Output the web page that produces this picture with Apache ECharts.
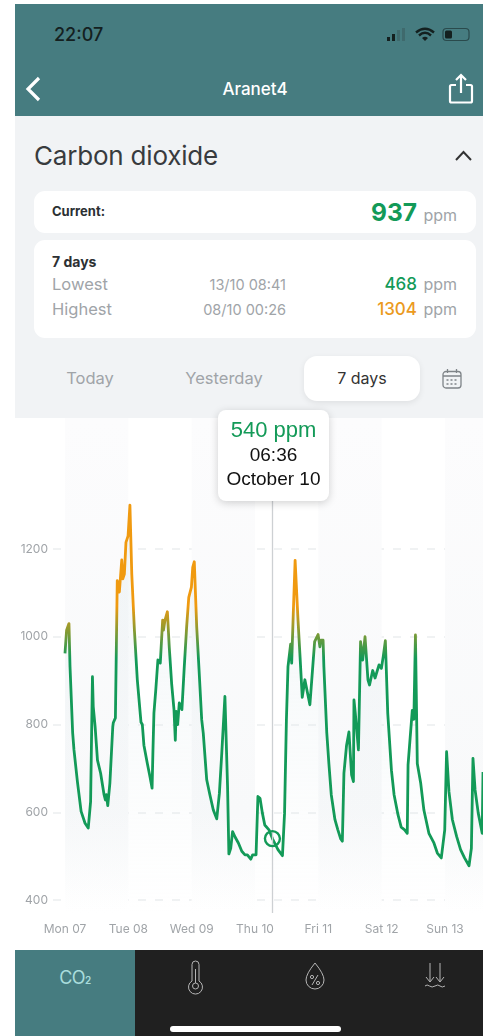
<!DOCTYPE html>
<html>
<head>
<meta charset="utf-8">
<title>Aranet4</title>
<script src="https://cdn.jsdelivr.net/npm/echarts@6/dist/echarts.min.js"></script>
<style>
    html, body { margin: 0; padding: 0; width: 483px; height: 1036px; background: #fff; overflow: hidden; font-family: Inter, "Noto Sans", sans-serif; }
    .abs { position: absolute; white-space: nowrap; line-height: 1; }
    .panel { position: absolute; }
    .card { position: absolute; left: 34px; width: 442px; background: #fff; border-radius: 11px; }
    .grey { color: #a0a4a8; }
    .green { color: #139a58; }
    .orange { color: #eb9a1e; }
    svg { position: absolute; overflow: visible; fill: none; }
    #chart { position: absolute; left: 0; top: 400px; width: 483px; height: 550px; }
</style>
</head>
<body>
<div class="panel" style="left:15px;top:4px;width:468px;height:112px;background:#467c80"></div>
<div class="panel" style="left:15px;top:116px;width:468px;height:302px;background:#f1f3f5"></div>

<div class="abs" style="left:54px;top:26px;font-size:18px;font-weight:500;color:#14201f">22:07</div>
<svg style="left:386px;top:26px" width="90" height="18">
    <rect x="1" y="11" width="3" height="4" fill="#14201f"/><rect x="6" y="8" width="3" height="7" fill="#14201f"/>
    <rect x="11" y="4" width="3" height="11" fill="#3f6a6d"/><rect x="16" y="2" width="3" height="13" fill="#3f6a6d"/>
    <path d="M30 6.5 Q39 -1 48 6.5" stroke="#14201f" stroke-width="2.4"/><path d="M33 9.5 Q39 4 45 9.5" stroke="#14201f" stroke-width="2.4"/>
    <path d="M36 12 L39 15 L42 12 Q39 9.5 36 12Z" fill="#14201f"/>
    <rect x="57" y="2.5" width="26" height="12" rx="3.5" stroke="#2a4a4c" stroke-width="1.2"/><rect x="59" y="4.5" width="7" height="8" rx="1.5" fill="#14201f"/>
</svg>
<svg style="left:24px;top:74px" width="20" height="30"><path d="M15 4 L4 15 L15 26" stroke="#fff" stroke-width="3.2"/></svg>
<div class="abs" style="left:155px;width:200px;top:81px;text-align:center;font-size:17px;font-weight:500;color:#fff">Aranet4</div>
<svg style="left:447px;top:73px" width="28" height="32" stroke="#fff" stroke-width="2.2">
    <path d="M14 2 V20 M9 7 L14 2 L19 7"/><path d="M9 12 H4.5 Q3 12 3 13.5 V28 Q3 29.5 4.5 29.5 H23.5 Q25 29.5 25 28 V13.5 Q25 12 23.5 12 H19"/>
</svg>

<div class="abs" style="left:34px;top:143px;font-size:26px;letter-spacing:-0.2px;color:#383b3e">Carbon dioxide</div>
<svg style="left:454px;top:149px" width="20" height="14"><path d="M2 11 L9.500 3 L17 11" stroke="#333" stroke-width="2"/></svg>

<div class="card" style="top:191px;height:42px"></div>
<div class="abs" style="left:52px;top:205px;font-size:13px;font-weight:700;color:#2c3033">Current:</div>
<div class="abs green" style="right:66px;top:200px;font-size:24.500px;font-weight:700">937</div>
<div class="abs grey" style="right:26px;top:207px;font-size:16px">ppm</div>

<div class="card" style="top:240px;height:98px"></div>
<div class="abs" style="left:52px;top:255px;font-size:14px;font-weight:700;color:#2c3033">7 days</div>
<div class="abs grey" style="left:52px;top:276px;font-size:16.500px">Lowest</div>
<div class="abs grey" style="left:52px;top:301px;font-size:16.500px">Highest</div>
<div class="abs grey" style="right:197px;top:278px;font-size:14.500px">13/10 08:41</div>
<div class="abs grey" style="right:197px;top:303px;font-size:14.500px">08/10 00:26</div>
<div class="abs green" style="right:66px;top:276px;font-size:17px;font-weight:500">468</div>
<div class="abs orange" style="right:66px;top:301px;font-size:17px;font-weight:500">1304</div>
<div class="abs grey" style="right:26px;top:276px;font-size:16px">ppm</div>
<div class="abs grey" style="right:26px;top:301px;font-size:16px">ppm</div>

<div class="panel" style="left:304px;top:356px;width:116px;height:45px;background:#fff;border-radius:13px;box-shadow:0 2px 6px rgba(0,0,0,.08)"></div>
<div class="abs grey" style="left:40px;width:100px;top:370px;text-align:center;font-size:16.500px">Today</div>
<div class="abs grey" style="left:164px;width:120px;top:370px;text-align:center;font-size:16.500px">Yesterday</div>
<div class="abs" style="left:304px;width:116px;top:370px;text-align:center;font-size:16px;color:#333">7 days</div>
<svg style="left:442px;top:369px" width="20" height="20" stroke="#7f8488" stroke-width="1.3">
    <rect x="1" y="2.500" width="18" height="16.500" rx="3"/><path d="M1 7 H19 M5.500 0 V4 M14.500 0 V4"/>
    <path d="M4.500 11 H15.500 M4.500 15 H15.500" stroke-dasharray="2 2" stroke-width="1.6"/>
</svg>

<div id="chart"></div>

<div class="panel" style="left:15px;top:950px;width:120px;height:86px;background:#467c80"></div>
<div class="panel" style="left:135px;top:950px;width:348px;height:86px;background:#202020"></div>
<div class="abs" style="left:15px;width:120px;top:969px;text-align:center;font-size:18px;color:#a9dcdc;letter-spacing:-0.5px">CO<span style="font-size:10px;font-weight:600">2</span></div>
<svg style="left:186px;top:960px" width="20" height="32" stroke="#b5b5b5" stroke-width="1">
    <path d="M6 21 V4.500 Q6 1 9.500 1 Q13 1 13 4.500 V21 A7 7 0 1 1 6 21Z"/><circle cx="9.500" cy="26" r="3"/><path d="M9.500 9 V23"/>
</svg>
<svg style="left:305px;top:961px" width="20" height="30" stroke="#b5b5b5" stroke-width="1">
    <path d="M10 2 Q19 13 19 19 A9 9 0 0 1 1 19 Q1 13 10 2Z"/><path d="M13 14 L7 24"/><circle cx="7" cy="16" r="1.600"/><circle cx="13" cy="22" r="1.600"/>
</svg>
<svg style="left:424px;top:962px" width="22" height="28" stroke="#b5b5b5" stroke-width="1">
    <path d="M6 1 V19 M2 15 L6 20 L10 15 M16 1 V19 M12 15 L16 20 L20 15"/><path d="M1 24 Q3 22 5.500 24 T11 24 T16 24 T21 24"/>
</svg>
<div class="panel" style="left:170px;top:1026px;width:171px;height:6px;background:#fff;border-radius:3px"></div>

<script>
// Hours since Mon 07 00:00 and CO2 readings in ppm
const sampleHours = [
    0, 0.6, 1.5, 1.9, 2.9, 3.4, 4.7, 6.1, 7.6, 8.8, 9.7, 10.4, 10.7, 11.4, 12.3, 13.5, 14.8, 15.3, 15.7, 16.2, 17, 18.1, 18.3, 19.1, 19.8,
    20.6, 21.5, 21.9, 22.5, 23.1, 23.9, 24.6, 25.3, 26.3, 27.4, 28.8, 29.3, 29.9, 31.2, 32.2, 33, 33.3, 33.7, 34.4, 35.2, 36.1, 37, 37.3, 37.9,
    38.8, 39.5, 40.4, 41.3, 41.8, 42.1, 42.7, 43.3, 44.3, 45.2, 46.1, 46.9, 47.9, 48.4, 49, 49.9, 50.8, 51.8, 52.4, 53.7, 54.9, 56.2, 57.5, 58.5,
    59.4, 60.6, 61.6, 62.1, 62.8, 63.5, 64.5, 65.7, 67, 68.2, 69.1, 70.4, 71.1, 72.4, 73.1, 73.9, 74.8, 75.7, 77.3, 78.6, 80.7, 82.4, 83.2, 83.9,
    84.5, 85.5, 85.9, 86.5, 87.2, 88.3, 89, 89.9, 90.5, 90.9, 91.4, 92.8, 93.7, 94.6, 95.9, 96.6, 97, 97.8, 98.1, 99.2, 100, 100.9, 102.3, 103.4,
    104.5, 105.1, 105.7, 106.7, 107.6, 108.6, 109.3, 109.5, 110, 111.2, 112, 112.8, 113.7, 114.8, 115.4, 116.6, 117.5, 119, 119.9, 120.6, 121.4,
    122.3, 123.7, 124.7, 126.2, 127.4, 128.7, 129.7, 130, 130.7, 131.6, 132.2, 132.8, 133.5, 134.8, 136, 137.9, 139.8, 141.1, 142.6, 143.9, 144.6,
    145.5, 146.8, 148.4, 149.9, 151.4, 153.1, 154, 154.6, 155.4, 156.6, 158.1, 158.4
];
const co2Values = [
    962, 1015, 1030, 932, 781, 742, 670, 602, 575, 564, 624, 909, 841, 796, 719, 689, 640, 628, 640, 615, 666, 795, 804, 815, 1128,
    1102, 1175, 1132, 1143, 1215, 1230, 1300, 1143, 1015, 902, 805, 800, 753, 711, 681, 655, 734, 826, 879, 947, 940, 1038, 1015, 1038,
    1057, 977, 894, 834, 764, 830, 800, 849, 834, 932, 1023, 1090, 1113, 1158, 1171, 1023, 924, 811, 780, 674, 640, 605, 585, 643,
    734, 864, 658, 505, 518, 556, 543, 530, 511, 503, 503, 493, 503, 503, 636, 632, 598, 571, 560, 540, 515, 501, 598, 810,
    932, 983, 940, 1052, 1174, 1038, 962, 862, 858, 902, 902, 845, 917, 989, 1005, 977, 992, 992, 932, 781, 711, 640, 583, 560,
    539, 534, 689, 753, 783, 685, 670, 856, 826, 742, 989, 947, 1000, 902, 890, 923, 906, 936, 928, 955, 991,
    826, 696, 640, 594, 566, 560, 552, 708, 704, 832, 812, 1004, 711, 666, 605, 552, 530, 507, 496, 560, 738,
    647, 583, 545, 515, 496, 478, 518, 723, 651, 598, 552, 692
];
const yTickValues = [400, 600, 800, 1000, 1200];
const dayTickHours = [0, 24, 48, 72, 96, 120, 144];
const dayLabels = ['Mon 07', 'Tue 08', 'Wed 09', 'Thu 10', 'Fri 11', 'Sat 12', 'Sun 13'];
const shadedDayRanges = [[0, 24], [48, 72], [96, 120], [144, 158.4]];
const selectedIndex = sampleHours.indexOf(78.6);
const selectedTime = '06:36';
const selectedDate = 'October 10';

const GREEN = '#139a58';
const ORANGE = '#f09a10';

const chart = echarts.init(document.querySelector('#chart'));

const option = {
    animation: false,
    grid: { left: 53, right: 0, top: 18, bottom: 37 },
    xAxis: {
        type: 'value',
        min: -4.55,
        max: 158.4,
        axisLine: { show: false },
        axisTick: { show: false, customValues: dayTickHours },
        splitLine: { show: false },
        axisLabel: {
            customValues: dayTickHours,
            formatter: (value) => dayLabels[dayTickHours.indexOf(value)],
            color: '#a0a4a8',
            fontFamily: 'Inter',
            fontSize: 12,
            margin: 10
        }
    },
    yAxis: {
        type: 'value',
        min: 370.4,
        max: 1498.6,
        axisLine: { show: false },
        axisTick: { show: false, customValues: yTickValues },
        splitLine: { lineStyle: { color: '#eceef0', width: 1.5, type: [8, 9] } },
        axisLabel: {
            customValues: yTickValues,
            formatter: (value) => String(value),
            color: '#a0a4a8',
            fontFamily: 'Inter',
            fontSize: 12,
            margin: 5
        }
    },
    // The line turns from green to orange around 1000 ppm
    visualMap: {
        show: false,
        type: 'continuous',
        seriesIndex: 0,
        dimension: 1,
        min: 950,
        max: 1070,
        inRange: { color: [GREEN, ORANGE] }
    },
    tooltip: {
        trigger: 'item',
        alwaysShowContent: true,
        transitionDuration: 0,
        position: [218, 10],
        padding: 0,
        borderWidth: 0,
        backgroundColor: '#fff',
        extraCssText: 'border-radius:8px;box-shadow:0 2px 8px rgba(0,0,0,.18);',
        formatter: (params) => `
            <div style="width:111px;height:91px;text-align:center;font-family:'Liberation Sans';color:#111;font-size:19px;line-height:24.500px;padding-top:8px;box-sizing:border-box">
                <div style="color:${GREEN};font-size:22px">${params.value[1]} ppm</div>
                <div>${selectedTime}</div>
                <div>${selectedDate}</div>
            </div>`
    },
    series: [{
        type: 'line',
        data: sampleHours.map((hour, i) => [hour, co2Values[i]]),
        showSymbol: false,
        symbol: 'none',
        lineStyle: { width: 2.8, join: 'round' },
        areaStyle: {
            color: {
                type: 'linear', x: 0, y: 0, x2: 0, y2: 1,
                colorStops: [
                    { offset: 0, color: 'rgba(222,232,236,0.55)' },
                    { offset: 1, color: 'rgba(222,232,236,0)' }
                ]
            }
        },
        markArea: {
            silent: true,
            itemStyle: {
                color: {
                    type: 'linear', x: 0, y: 0, x2: 0, y2: 1,
                    colorStops: [
                        { offset: 0, color: '#fcfcfd' },
                        { offset: 0.8, color: '#f8f9fa' },
                        { offset: 1, color: '#ffffff' }
                    ]
                }
            },
            data: shadedDayRanges.map((range) => [{ xAxis: range[0] }, { xAxis: range[1] }])
        },
        markLine: {
            silent: true,
            symbol: 'none',
            label: { show: false },
            lineStyle: { color: '#cdd0d3', width: 1.3, type: 'solid' },
            data: [{ xAxis: sampleHours[selectedIndex] }]
        }
    }, {
        // The selected reading: carries the ring marker and the tooltip
        type: 'scatter',
        data: [[sampleHours[selectedIndex], co2Values[selectedIndex]]],
        symbol: 'circle',
        symbolSize: 15,
        itemStyle: { color: 'rgba(0,0,0,0)', borderColor: GREEN, borderWidth: 2.4, opacity: 1 },
        z: 5
    }]
};

chart.setOption(option);
chart.dispatchAction({ type: 'showTip', seriesIndex: 1, dataIndex: 0 });
</script>
</body>
</html>
